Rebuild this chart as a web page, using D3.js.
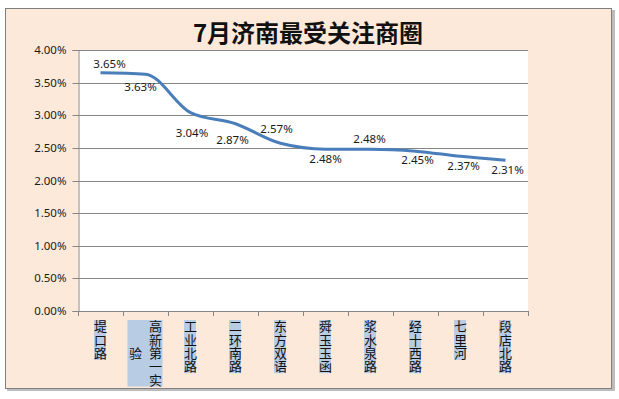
<!DOCTYPE html>
<html>
<head>
<meta charset="utf-8">
<script src="https://cdn.jsdelivr.net/npm/d3@7"></script>
<style>
  body { margin: 0; background: #ffffff; }
  svg text { font-family: "Noto Sans", "Noto Sans CJK SC", sans-serif; }
</style>
</head>
<body>
<div id="chart"></div>
<script>
// chart data
var categories = ["堤口路", "高新第一实验", "工业北路", "二环南路", "东方双语", "舜玉玉函", "浆水泉路", "经十西路", "七里河", "段店北路"];
var values = [3.65, 3.63, 3.04, 2.87, 2.57, 2.48, 2.48, 2.45, 2.37, 2.31];
var yTicks = [0, 0.5, 1, 1.5, 2, 2.5, 3, 3.5, 4];
var title = "7月济南最受关注商圈";

// where each data label sits relative to its point (dx, dy of label centre)
var labelShift = [[9, -9], [-5, 13], [1.5, 20], [-3, 16], [-4, -14], [0, 10], [-1, -10], [2, 9], [3, 10], [2, 10]];

var width = 619, height = 399;
var plot = {left: 78, right: 528, top: 50, bottom: 311};

var svg = d3.select("#chart")
  .append("svg")
    .attr("width", width)
    .attr("height", height);

// outer chart frame with a small shadow
svg.append("rect")
  .attr("x", 7).attr("y", 10)
  .attr("width", 608).attr("height", 381)
  .style("fill", "#bdbdbd");
svg.append("rect")
  .attr("x", 5.5).attr("y", 8.5)
  .attr("width", 606).attr("height", 380)
  .style("fill", "#fde9d9")
  .style("stroke", "#7f7f7f")
  .style("stroke-width", 1);

// white plot area
svg.append("rect")
  .attr("x", plot.left).attr("y", plot.top)
  .attr("width", plot.right - plot.left).attr("height", plot.bottom - plot.top)
  .style("fill", "#ffffff");

var x = d3.scaleBand()
  .domain(categories)
  .range([plot.left, plot.right])
  .padding(0);

var y = d3.scaleLinear()
  .domain([0, 4])
  .range([plot.bottom, plot.top]);

// gridlines
svg.append("g")
  .selectAll("line")
  .data(yTicks.filter(function(d) { return d > 0; }))
  .enter()
  .append("line")
    .attr("x1", plot.left).attr("x2", plot.right)
    .attr("y1", function(d) { return Math.round(y(d)) + 0.5; })
    .attr("y2", function(d) { return Math.round(y(d)) + 0.5; })
    .style("stroke", "#868686")
    .style("stroke-width", 1);

// y axis
var yAxis = svg.append("g")
  .attr("transform", "translate(" + (plot.left + 0.5) + ",0)")
  .call(d3.axisLeft(y).tickValues(yTicks).tickSize(6).tickPadding(6)
    .tickFormat(function(d) { return d.toFixed(2) + "%"; }));
yAxis.selectAll(".tick").attr("transform", function(d) { return "translate(0," + (Math.round(y(d)) + 0.5) + ")"; });
yAxis.select(".domain").style("stroke", "#868686");
yAxis.selectAll(".tick line").style("stroke", "#868686");
yAxis.selectAll(".tick text")
  .style("font-size", "11.5px")
  .style("fill", "#1a1a1a")
  .style("font-family", "'Noto Sans', sans-serif");

// x axis line and ticks at band edges
var xg = svg.append("g");
xg.append("line")
  .attr("x1", plot.left).attr("x2", plot.right)
  .attr("y1", plot.bottom + 0.5).attr("y2", plot.bottom + 0.5)
  .style("stroke", "#868686");
xg.selectAll("line.edge")
  .data(categories.concat(["end"]))
  .enter()
  .append("line")
    .attr("class", "edge")
    .attr("x1", function(d, i) { return Math.round(plot.left + i * x.bandwidth()) + 0.5; })
    .attr("x2", function(d, i) { return Math.round(plot.left + i * x.bandwidth()) + 0.5; })
    .attr("y1", plot.bottom).attr("y2", plot.bottom + 5)
    .style("stroke", "#868686");

// vertical category labels, one character per line, wrapped into columns of at most 5
var charH = 13.3, maxChars = 5, colGap = 20;
categories.forEach(function(name, i) {
  var chars = name.split("");
  var cols = [];
  for (var k = 0; k < chars.length; k += maxChars) cols.push(chars.slice(k, k + maxChars));
  var cx = x(name) + x.bandwidth() / 2;
  var top = 320;
  var blockH = Math.min(chars.length, maxChars) * charH;
  var boxW = 12 + (cols.length - 1) * (colGap + 3);
  var g = svg.append("g");
  g.append("rect")
    .attr("x", cx - boxW / 2 - 0.5)
    .attr("y", top)
    .attr("width", boxW)
    .attr("height", blockH)
    .style("fill", "#b8cce4");
  cols.forEach(function(col, c) {
    // first column on the right, next ones to the left
    var colX = cx + ((cols.length - 1) / 2 - c) * colGap;
    var colTop = top + (blockH - col.length * charH) / 2;
    col.forEach(function(ch, j) {
      g.append("text")
        .attr("x", colX)
        .attr("y", colTop + j * charH + charH / 2)
        .attr("dy", "0.36em")
        .attr("text-anchor", "middle")
        .style("font-family", "'Noto Sans CJK SC', sans-serif")
        .style("font-size", "13px")
        .style("fill", "#111")
        .text(ch);
    });
  });
});

// the line
var line = d3.line()
  .x(function(d, i) { return x(categories[i]) + x.bandwidth() / 2; })
  .y(function(d) { return y(d); })
  .curve(d3.curveMonotoneX);

svg.append("path")
  .datum(values)
  .attr("d", line)
  .style("fill", "none")
  .style("stroke", "#4a7ebb")
  .style("stroke-width", 3)
  .style("stroke-linejoin", "round");

// data labels
svg.append("g")
  .selectAll("text")
  .data(values)
  .enter()
  .append("text")
    .attr("x", function(d, i) { return x(categories[i]) + x.bandwidth() / 2 + labelShift[i][0]; })
    .attr("y", function(d, i) { return y(d) + labelShift[i][1]; })
    .attr("dy", "0.36em")
    .attr("text-anchor", "middle")
    .style("font-size", "11.5px")
    .style("fill", "#1a1a1a")
    .text(function(d) { return d.toFixed(2) + "%"; });

// title
svg.append("text")
  .attr("x", 308)
  .attr("y", 42)
  .attr("text-anchor", "middle")
  .style("font-family", "'Noto Sans CJK SC', sans-serif")
  .style("font-weight", "bold")
  .style("font-size", "24px")
  .style("fill", "#111")
  .text(title);
</script>
</body>
</html>
